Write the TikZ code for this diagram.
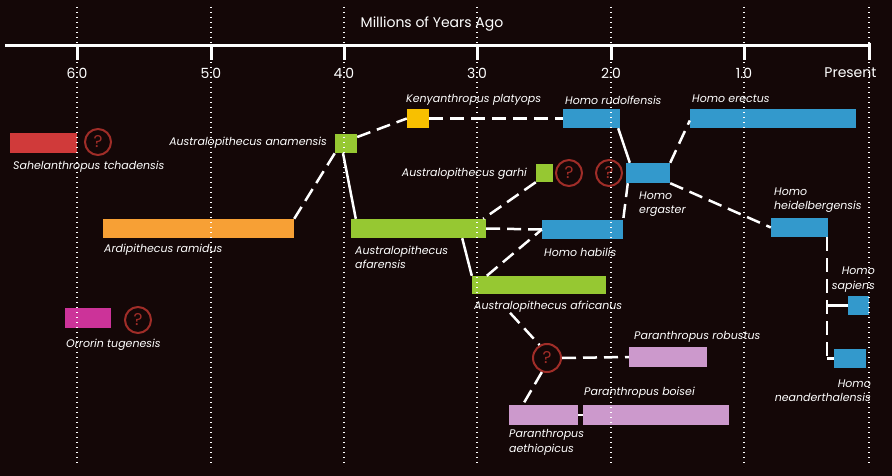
\documentclass[tikz,border=0pt]{standalone}
\usepackage{fontspec}
\setmainfont{Poppins}
\definecolor{bgdark}{RGB}{20,7,7}
\definecolor{sahelred}{RGB}{208,58,58}
\definecolor{ardiorange}{RGB}{247,160,53}
\definecolor{austgreen}{RGB}{150,200,50}
\definecolor{kenyagold}{RGB}{248,192,0}
\definecolor{homoblue}{RGB}{51,153,204}
\definecolor{paralilac}{RGB}{204,153,204}
\definecolor{orromag}{RGB}{204,51,153}
\definecolor{qred}{RGB}{160,45,40}
\begin{document}
\begin{tikzpicture}[x=1pt, y=-1pt,
    bar/.style={fill=#1, inner sep=0pt, minimum height=19pt},
    lbl/.style={text=white, inner sep=0pt, font=\fontsize{11}{14.5}\selectfont\itshape},
    qmark/.style={circle, draw=qred, line width=2pt, text=qred, minimum size=26pt,
                  inner sep=0pt, font=\fontsize{17}{17}\selectfont},
    link/.style={white, line width=2.5pt},
    dashlink/.style={link, dash pattern=on 14pt off 7pt}]

    % --- Background ---
    \fill[bgdark] (0,0) rectangle (892,476);
    \useasboundingbox (0,0) rectangle (892,476);

    % --- Time axis ---
    \node[text=white, font=\fontsize{14}{14}\selectfont] (title) at (432,24) {Millions of Years Ago};
    \draw[white, line width=3pt] (5,46) -- (870,46);
    \foreach \x/\t in {77/6.0, 211/5.0, 344/4.0, 477/3.0, 611/2.0, 744/1.0} {
      \draw[white, line width=3pt] (\x,46) -- (\x,60);
      \node[text=white, font=\fontsize{14}{14}\selectfont] at (\x,73) {\t};
    }
    \draw[white, line width=3pt] (869,43) -- (869,60);
    \node[text=white, font=\fontsize{14}{14}\selectfont, anchor=east] at (880,73) {Present};

    % --- Species bars ---
    \node[bar=sahelred, minimum width=67pt, minimum height=20pt] (sahel) at (43.5,143) {};
    \node[bar=ardiorange, minimum width=191pt] (ardi) at (198.5,228.5) {};
    \node[bar=austgreen, minimum width=22pt] (anam) at (346,143.5) {};
    \node[bar=kenyagold, minimum width=22pt] (kenya) at (418,118.5) {};
    \node[bar=homoblue, minimum width=57pt] (rudolf) at (591.5,118.5) {};
    \node[bar=homoblue, minimum width=166pt] (erectus) at (773,118.5) {};
    \node[bar=austgreen, minimum width=17pt, minimum height=18pt] (garhi) at (544.5,173) {};
    \node[bar=homoblue, minimum width=44pt, minimum height=20pt] (ergaster) at (648,173) {};
    \node[bar=homoblue, minimum width=57pt] (heidel) at (799.5,227.5) {};
    \node[bar=austgreen, minimum width=135pt] (afar) at (418.5,228.5) {};
    \node[bar=homoblue, minimum width=81pt] (habilis) at (582.5,229.5) {};
    \node[bar=austgreen, minimum width=134pt, minimum height=18pt] (african) at (539,285) {};
    \node[bar=paralilac, minimum width=78pt, minimum height=20pt] (robust) at (668,357) {};
    \node[bar=paralilac, minimum width=69pt, minimum height=20pt] (aethio) at (543.5,415) {};
    \node[bar=paralilac, minimum width=146pt, minimum height=20pt] (boisei) at (656,415) {};
    \node[bar=homoblue, minimum width=21pt] (sapiens) at (858.5,305.5) {};
    \node[bar=homoblue, minimum width=32pt] (neander) at (850,358.5) {};
    \node[bar=orromag, minimum width=46pt, minimum height=20pt] (orrorin) at (88,318) {};

    % --- Uncertain origins ---
    \node[qmark] (qsahel) at (98,142) {?};
    \node[qmark] (qgarhi) at (569,173) {?};
    \node[qmark] (qergaster) at (609,173) {?};
    \node[qmark, minimum size=28pt] (qpara) at (547,358) {?};
    \node[qmark] (qorrorin) at (138,320) {?};

    % --- Names ---
    \node[lbl, anchor=west] (sahellbl) at (13,167) {Sahelanthropus tchadensis};
    \node[lbl, anchor=west] (ardilbl) at (104,250) {Ardipithecus ramidus};
    \node[lbl, anchor=east] (anamlbl) at (327,143) {Australopithecus anamensis};
    \node[lbl, anchor=west] (kenyalbl) at (406,100) {Kenyanthropus platyops};
    \node[lbl, anchor=west] (rudolflbl) at (565,100) {Homo rudolfensis};
    \node[lbl, anchor=west] (erectuslbl) at (692,99) {Homo erectus};
    \node[lbl, anchor=east] (garhilbl) at (527,174) {Australopithecus garhi};
    \node[lbl, anchor=west, align=left] (ergasterlbl) at (639,204) {Homo\\ergaster};
    \node[lbl, anchor=west, align=left] (heidellbl) at (774,200) {Homo\\heidelbergensis};
    \node[lbl, anchor=west, align=left] (afarlbl) at (355,257.5) {Australopithecus\\afarensis};
    \node[lbl, anchor=west] (habilislbl) at (544,252) {Homo habilis};
    \node[lbl, anchor=west] (africanlbl) at (474,307) {Australopithecus africanus};
    \node[lbl, anchor=west] (robustlbl) at (634,337) {Paranthropus robustus};
    \node[lbl, anchor=west, align=left] (aethiolbl) at (509,442.5) {Paranthropus\\aethiopicus};
    \node[lbl, anchor=west] (boiseilbl) at (584,393) {Paranthropus boisei};
    \node[lbl, anchor=east, align=right] (sapienslbl) at (875,279.5) {Homo\\sapiens};
    \node[lbl, anchor=east, align=right] (neanderlbl) at (871,390.5) {Homo\\neanderthalensis};
    \node[lbl, anchor=west] (orrorinlbl) at (66,345) {Orrorin tugenesis};

    % --- Lineages ---
    \draw[dashlink] (ardi.north east) -- (anam.south west);
    \draw[link] ([xshift=-3pt]anam.south) -- ([xshift=5pt]afar.north west);
    \draw[dashlink] (anam.30) -- (kenya.west);
    \draw[dashlink] (kenya.east) -- (rudolf.west);
    \draw[link] ([xshift=-2pt]rudolf.south east) -- ([xshift=4pt]ergaster.north west);
    \draw[dashlink] (ergaster.north east) -- ([yshift=-2pt]erectus.west);
    \draw[dashlink] ([xshift=2pt]ergaster.south west) -- (habilis.north east);
    \draw[dashlink] (ergaster.south east) -- (heidel.west);
    \draw[dashlink] (garhi.south west) -- ([xshift=-3pt]afar.north east);
    \draw[dashlink] (afar.east) -- (habilis.west);
    \draw[dashlink] ([xshift=15pt]african.north west) -- (habilis.west);
    \draw[link] ([xshift=-24pt]afar.south east) -- (african.north west);
    \draw[dashlink] ([xshift=36pt]africanlbl.south west) -- (qpara.120);
    \draw[dashlink] (qpara.east) -- (robust.west);
    \draw[dashlink] (qpara.250) -- ([xshift=14pt]aethio.north west);
    \draw[link] (aethio.east) -- (boisei.west);
    \draw[dashlink] ([xshift=-1pt]heidel.south east) -- ([xshift=-1pt]heidel.south east |- neander.west);
    \draw[link] ([xshift=-1pt]heidel.south east |- sapiens.west) -- (sapiens.west);
    \draw[link] ([xshift=-1pt]heidel.south east |- neander.west) -- (neander.west);

    % --- Grid ---
    \foreach \x in {77, 211, 344, 477, 611, 744, 869}
      \draw[white, line width=1.3pt, dash pattern=on 1.3pt off 3.7pt] (\x,7) -- (\x,466);
  \end{tikzpicture}
\end{document}
